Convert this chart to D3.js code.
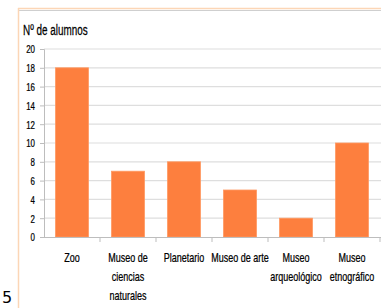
<!DOCTYPE html>
<html>
<head>
<meta charset="utf-8">
<script src="https://cdn.jsdelivr.net/npm/d3@7"></script>
<style>
  body { margin: 0; background: #fff; }
  text { font-family: "Liberation Sans", Arial, sans-serif; fill: #000; stroke: #000; stroke-width: 0.25; }
</style>
</head>
<body>
<script>
// data
const categories = ["Zoo", "Museo de ciencias naturales", "Planetario", "Museo de arte", "Museo arqueológico", "Museo etnográfico"];
const labelLines = [["Zoo"], ["Museo de", "ciencias", "naturales"], ["Planetario"], ["Museo de arte"], ["Museo", "arqueológico"], ["Museo", "etnográfico"]];
const alumnos = [18, 7, 8, 5, 2, 10];
const yTicks = [0, 2, 4, 6, 8, 10, 12, 14, 16, 18, 20];

const width = 381, height = 308;
const sx = 0.72; // text looks squeezed horizontally

const svg = d3.select("body").append("svg")
  .attr("width", width)
  .attr("height", height);

const x = d3.scaleBand().domain(categories).range([44, 380]).paddingInner(0.41).paddingOuter(0.205);
const y = d3.scaleLinear().domain([0, 20]).range([237, 49]);

// frame
svg.append("line").attr("x1", 18).attr("x2", width).attr("y1", 8.5).attr("y2", 8.5)
  .attr("stroke", "#fcd6b6").attr("stroke-width", 1.5);
svg.append("line").attr("x1", 19).attr("x2", width).attr("y1", 10.5).attr("y2", 10.5)
  .attr("stroke", "#cfcfcf").attr("stroke-width", 1);
svg.append("line").attr("x1", 18.5).attr("x2", 18.5).attr("y1", 8).attr("y2", height)
  .attr("stroke", "#fcd6b6").attr("stroke-width", 1.5);

// title
svg.append("text")
  .attr("transform", `translate(23,35) scale(0.66,1)`)
  .style("font-size", "15px")
  .text("Nº de alumnos");

// gridlines
svg.append("g").selectAll("line").data(yTicks.filter(d => d > 0)).join("line")
  .attr("x1", 44).attr("x2", width)
  .attr("y1", d => y(d)).attr("y2", d => y(d))
  .attr("stroke", "#dedede").attr("stroke-width", 1.2);

// y axis
const yAxis = svg.append("g").attr("transform", "translate(44,0)")
  .call(d3.axisLeft(y).tickValues(yTicks).tickSize(4).tickPadding(0));
yAxis.select(".domain").attr("stroke", "#bdbdbd");
yAxis.selectAll(".tick line").attr("stroke", "#bdbdbd");
yAxis.selectAll(".tick text").remove();
yAxis.selectAll(".tick").append("text")
  .attr("transform", `translate(-9,0) scale(${sx},1)`)
  .attr("dy", "0.35em")
  .attr("text-anchor", "end")
  .style("font-size", "11px")
  .text(d => d);

// bars
svg.append("g").selectAll("rect").data(categories).join("rect")
  .attr("x", d => x(d))
  .attr("width", x.bandwidth())
  .attr("y", (d, i) => y(alumnos[i]))
  .attr("height", (d, i) => y(0) - y(alumnos[i]))
  .attr("fill", "#fd7f3e")
  .attr("stroke", "#ff9a63")
  .attr("stroke-width", 0.8);

// x axis
const step = x.step();
const bounds = [44].concat(categories.map(d => x(d) - x.paddingInner() * step / 2 + step));
svg.append("line").attr("x1", 44).attr("x2", width).attr("y1", y(0) + 0.5).attr("y2", y(0) + 0.5)
  .attr("stroke", "#bdbdbd");
svg.append("g").selectAll("line").data(bounds.slice(1)).join("line")
  .attr("x1", d => d).attr("x2", d => d)
  .attr("y1", y(0)).attr("y2", y(0) + 5)
  .attr("stroke", "#bdbdbd");

// x labels
const xl = svg.append("g").selectAll("g").data(categories).join("g")
  .attr("transform", d => `translate(${x(d) + x.bandwidth() / 2},262) scale(${sx},1)`);
xl.selectAll("text").data((d, i) => labelLines[i]).join("text")
  .attr("y", (d, j) => j * 19)
  .attr("text-anchor", "middle")
  .style("font-size", "12.5px")
  .text(d => d);

// page number fragment
svg.append("text").attr("x", 2).attr("y", 303)
  .style("font-size", "16px")
  .style("stroke-width", 0)
  .style("font-family", "DejaVu Sans, sans-serif")
  .text("5");
</script>
</body>
</html>
